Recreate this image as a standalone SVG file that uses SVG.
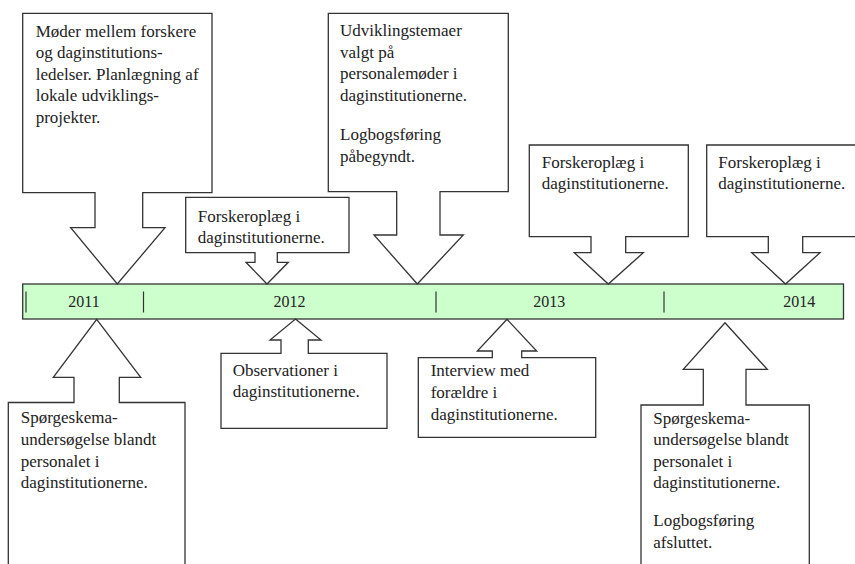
<svg xmlns="http://www.w3.org/2000/svg" width="855" height="564" viewBox="0 0 855 564">
<style>
.c{fill:#ffffff;stroke:#333333;stroke-width:1.3;stroke-linejoin:miter}
.t{font-family:"Liberation Serif","Times New Roman",serif;font-size:17px;fill:#222222}
.y{font-family:"Liberation Serif","Times New Roman",serif;font-size:16px;fill:#222222;text-anchor:middle}
.bar{fill:#ccffcc;stroke:#333333;stroke-width:1.3}
.tick{stroke:#333333;stroke-width:1.2}
</style>
<rect width="855" height="564" fill="#ffffff"/>
<g id="timeline">
<rect class="bar" x="22.7" y="284" width="820.8" height="35"/>
<g id="connectors">
<line class="tick" x1="26" y1="291.5" x2="26" y2="312.5"/>
<line class="tick" x1="143.5" y1="291.5" x2="143.5" y2="312.5"/>
<line class="tick" x1="436" y1="291.5" x2="436" y2="312.5"/>
<line class="tick" x1="664" y1="291.5" x2="664" y2="312.5"/>
</g>
<text class="y" x="84" y="306.7">2011</text>
<text class="y" x="289.6" y="306.7">2012</text>
<text class="y" x="549.3" y="306.7">2013</text>
<text class="y" x="799.2" y="306.7">2014</text>
</g>
<g id="n1">
<path class="c" d="M22.7,13.3 H212 V192.7 H142.7 V227.7 H165 L117.3,284 L70.7,227.7 H95 V192.7 H22.7 Z"/>
<text class="t" x="35.7" y="36.6">Møder mellem forskere</text>
<text class="t" x="35.7" y="58.2">og daginstitutions-</text>
<text class="t" x="35.7" y="79.8">ledelser. Planlægning af</text>
<text class="t" x="35.7" y="101.2">lokale udviklings-</text>
<text class="t" x="35.7" y="122.5">projekter.</text>
</g>
<g id="n2">
<path class="c" d="M185.7,197.3 H349 V252.7 H277.3 V262.3 H288.3 L267,284 L246,262.3 H255 V252.7 H185.7 Z"/>
<text class="t" x="197.7" y="221.7">Forskeroplæg i</text>
<text class="t" x="197.7" y="243.3">daginstitutionerne.</text>
</g>
<g id="n3">
<path class="c" d="M328.3,13.3 H508.3 V191.7 H440 V235 H463.3 L417.3,284 L374,235 H396.7 V191.7 H328.3 Z"/>
<text class="t" x="340" y="36">Udviklingstemaer</text>
<text class="t" x="340" y="57.5">valgt på</text>
<text class="t" x="340" y="79">personalemøder i</text>
<text class="t" x="340" y="100.5">daginstitutionerne.</text>
<text class="t" x="340" y="140">Logbogsføring</text>
<text class="t" x="340" y="161.5">påbegyndt.</text>
</g>
<g id="n4">
<path class="c" d="M529.3,145 H688.3 V236.7 H625.7 V252.7 H643.3 L608.3,284 L574.3,252.7 H591 V236.7 H529.3 Z"/>
<text class="t" x="541.7" y="167.5">Forskeroplæg i</text>
<text class="t" x="541.7" y="189.2">daginstitutionerne.</text>
</g>
<g id="n5">
<path class="c" d="M706.7,145 H870 V236.7 H802.7 V252.7 H820 L785.5,284 L751.7,252.7 H768.3 V236.7 H706.7 Z"/>
<text class="t" x="718.3" y="167.5">Forskeroplæg i</text>
<text class="t" x="718.3" y="189.2">daginstitutionerne.</text>
</g>
<g id="n6">
<path class="c" d="M96.7,319.3 L140.7,377.3 H119.3 V402.5 H185 V580 H8.3 V402.5 H74 V377.3 H53.3 Z"/>
<text class="t" x="20.7" y="423.3">Spørgeskema-</text>
<text class="t" x="20.7" y="445">undersøgelse blandt</text>
<text class="t" x="20.7" y="466.5">personalet i</text>
<text class="t" x="20.7" y="488">daginstitutionerne.</text>
</g>
<g id="n7">
<path class="c" d="M295.5,319 L321,340 H308.3 V353.3 H387 V428.3 H221 V353.3 H281 V340 H270 Z"/>
<text class="t" x="232.7" y="375.7">Observationer i</text>
<text class="t" x="232.7" y="396.5">daginstitutionerne.</text>
</g>
<g id="n8">
<path class="c" d="M507,319.3 L536.7,351 H521.7 V357.7 H595.7 V437.3 H418.3 V357.7 H492.3 V351 H477.3 Z"/>
<text class="t" x="430.7" y="375.5">Interview med</text>
<text class="t" x="430.7" y="397.5">forældre i</text>
<text class="t" x="430.7" y="419.5">daginstitutionerne.</text>
</g>
<g id="n9">
<path class="c" d="M725,322.7 L767.3,369.3 H746 V405 H809.3 V580 H641 V405 H703.3 V369.3 H683.3 Z"/>
<text class="t" x="653.3" y="423.5">Spørgeskema-</text>
<text class="t" x="653.3" y="445">undersøgelse blandt</text>
<text class="t" x="653.3" y="466.7">personalet i</text>
<text class="t" x="653.3" y="488.3">daginstitutionerne.</text>
<text class="t" x="653.3" y="526">Logbogsføring</text>
<text class="t" x="653.3" y="548.3">afsluttet.</text>
</g>
</svg>
